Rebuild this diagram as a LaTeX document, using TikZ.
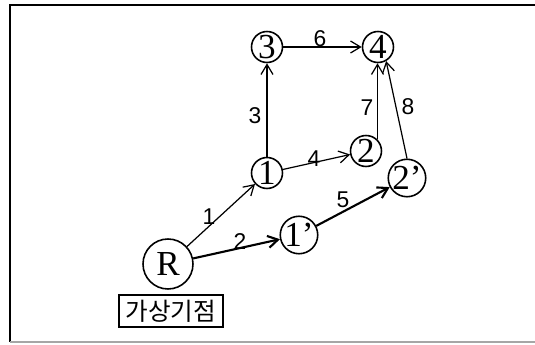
\documentclass[tikz,border=0pt]{standalone}
\usepackage{fontspec}
\setmainfont{Liberation Serif}
\newfontfamily\labelfont{Liberation Sans}
\newfontfamily\korfont{Noto Sans CJK KR}
\usepackage{tikz}
\usetikzlibrary{arrows.meta, calc}
\tikzset{
  vertex/.style={circle, draw, line width=0.9pt, minimum size=0.62cm, inner sep=0pt,
                 font=\fontsize{20}{20}\selectfont},
  rootvertex/.style={circle, draw, line width=0.9pt, minimum size=1.0cm, inner sep=0pt,
                     font=\fontsize{20}{20}\selectfont},
  tagbox/.style={rectangle, draw, line width=0.9pt, minimum width=2.08cm, minimum height=0.64cm,
                 inner sep=0pt, font=\korfont\fontsize{14}{14}\selectfont},
  edgelabel/.style={font=\labelfont\fontsize{13}{13}\selectfont, inner sep=0pt},
  arrow/.style={-{Straight Barb[length=2mm, width=2.4mm]}, line width=0.7pt},
  thickarrow/.style={-{Straight Barb[length=2mm, width=2.4mm]}, line width=1.2pt},
}

\begin{document}
\begin{tikzpicture}
  \useasboundingbox (0,0) rectangle (10.7,6.9);

  % Frame (open on the right)
  \draw[line width=0.8pt] (10.7,6.8) -- (0.2,6.8) -- (0.2,0.06);
  \draw[line width=0.8pt, gray!70] (0.2,0.06) -- (10.7,0.06);

  % Vertices
  \node[rootvertex] (R)   at (3.36, 1.62) {R};
  \node[vertex]     (n1)  at (5.34, 3.44) {1};
  \node[vertex]     (n1p) at (5.98, 2.20) {1'};
  \node[vertex]     (n2)  at (7.32, 3.88) {2};
  \node[vertex]     (n2p) at (8.14, 3.34) {2'};
  \node[vertex]     (n3)  at (5.34, 5.96) {3};
  \node[vertex]     (n4)  at (7.56, 5.96) {4};

  % Virtual start point tag
  \node[tagbox] (tag) at (3.42, 0.68) {가상기점};

  % Arcs
  \draw[arrow]      (R) -- (n1);
  \draw[thickarrow] (R) -- (n1p);
  \draw[arrow]      (n1) -- (n3);
  \draw[arrow]      (n1) -- (n2);
  \draw[thickarrow] (n1p) -- (n2p);
  \draw[arrow]      (n3) -- (n4);
  \draw[arrow]      (n2.north east) -- (n2.north east |- n4.south);
  \draw[arrow]      (n2p.north) -- (n4.-60);

  % Arc numbers
  \node[edgelabel] (e1) at (4.18, 2.56) {1};
  \node[edgelabel] (e2) at (4.80, 2.06) {2};
  \node[edgelabel] (e3) at (5.10, 4.58) {3};
  \node[edgelabel] (e4) at (6.28, 3.72) {4};
  \node[edgelabel] (e5) at (6.86, 2.90) {5};
  \node[edgelabel] (e6) at (6.40, 6.12) {6};
  \node[edgelabel] (e7) at (7.34, 4.74) {7};
  \node[edgelabel] (e8) at (8.16, 4.76) {8};

\end{tikzpicture}
\end{document}
